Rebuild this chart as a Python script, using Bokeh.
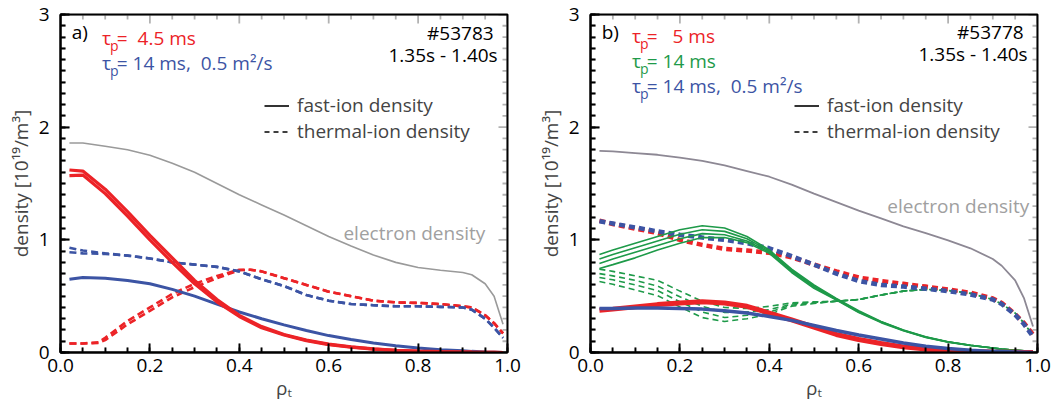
import numpy as np
from bokeh.plotting import figure
from bokeh.models import (Range1d, SingleIntervalTicker, PrintfTickFormatter,
                          Label, Legend, LegendItem, PolyAnnotation)
from bokeh.layouts import row
from bokeh.embed import file_html
from bokeh.resources import INLINE

# ---------------- data ----------------
X = [0.02, 0.05, 0.1, 0.15, 0.2, 0.25, 0.3, 0.35, 0.4, 0.45, 0.5, 0.55, 0.6, 0.65,
     0.7, 0.75, 0.8, 0.85, 0.9, 0.92, 0.95, 0.97, 0.99]

# panel a  (#53783)
el_a = [1.86, 1.86, 1.83, 1.80, 1.75, 1.68, 1.60, 1.50, 1.40, 1.31, 1.22, 1.125, 1.03, 0.945,
        0.865, 0.80, 0.755, 0.73, 0.71, 0.69, 0.61, 0.50, 0.25]
fast_red_a1 = [1.62, 1.61, 1.45, 1.25, 1.04, 0.84, 0.64, 0.47, 0.33, 0.23, 0.16, 0.11, 0.075,
               0.05, 0.032, 0.02, 0.012, 0.007, 0.004, 0.003, 0.002, 0.001, 0.0]
fast_red_a2 = [1.57, 1.575, 1.41, 1.21, 1.00, 0.80, 0.61, 0.45, 0.32, 0.22, 0.155, 0.105, 0.07,
               0.047, 0.03, 0.018, 0.011, 0.006, 0.004, 0.003, 0.002, 0.001, 0.0]
fast_blue_a = [0.65, 0.665, 0.66, 0.64, 0.61, 0.56, 0.50, 0.43, 0.36, 0.30, 0.245, 0.195, 0.15,
               0.115, 0.085, 0.06, 0.04, 0.025, 0.015, 0.01, 0.005, 0.003, 0.0]
therm_blue_a1 = [0.93, 0.905, 0.88, 0.86, 0.835, 0.80, 0.78, 0.76, 0.72, 0.65, 0.59, 0.51, 0.46,
                 0.43, 0.42, 0.41, 0.41, 0.405, 0.40, 0.38, 0.30, 0.22, 0.13]
therm_blue_a2 = [0.89, 0.88, 0.875, 0.86, 0.835, 0.80, 0.78, 0.76, 0.72, 0.65, 0.59, 0.51, 0.46,
                 0.43, 0.42, 0.41, 0.41, 0.405, 0.40, 0.38, 0.30, 0.22, 0.13]
XT = [0.02, 0.05, 0.085, 0.1, 0.15, 0.2, 0.25, 0.3, 0.35, 0.4, 0.425, 0.45, 0.5, 0.55, 0.6,
      0.65, 0.7, 0.75, 0.8, 0.85, 0.9, 0.92, 0.95, 0.97, 0.99]
therm_red_a1 = [0.08, 0.08, 0.085, 0.11, 0.25, 0.37, 0.49, 0.58, 0.66, 0.73, 0.735, 0.72, 0.66,
                0.60, 0.54, 0.50, 0.46, 0.445, 0.44, 0.43, 0.41, 0.40, 0.33, 0.26, 0.17]
therm_red_a2 = [0.08, 0.08, 0.09, 0.13, 0.28, 0.40, 0.52, 0.61, 0.68, 0.735, 0.735, 0.72, 0.66,
                0.60, 0.54, 0.50, 0.46, 0.445, 0.44, 0.43, 0.41, 0.40, 0.33, 0.26, 0.17]

# panel b  (#53778)
el_b = [1.79, 1.785, 1.77, 1.755, 1.73, 1.70, 1.66, 1.61, 1.56, 1.49, 1.41, 1.335, 1.26, 1.19,
        1.12, 1.06, 0.995, 0.925, 0.83, 0.77, 0.64, 0.48, 0.23]
fast_red_b = [0.375, 0.385, 0.405, 0.425, 0.44, 0.45, 0.44, 0.41, 0.35, 0.29, 0.225, 0.16, 0.115,
              0.08, 0.05, 0.03, 0.015, 0.008, 0.004, 0.003, 0.002, 0.001, 0.0]
fast_blue_b = [0.39, 0.39, 0.395, 0.395, 0.39, 0.385, 0.37, 0.35, 0.32, 0.285, 0.24, 0.195, 0.155,
               0.12, 0.085, 0.055, 0.035, 0.02, 0.01, 0.008, 0.004, 0.002, 0.0]
fast_green_b1 = [0.87, 0.91, 0.97, 1.03, 1.09, 1.125, 1.105, 1.03, 0.91, 0.74, 0.60, 0.48, 0.37,
                 0.275, 0.20, 0.14, 0.095, 0.065, 0.04, 0.03, 0.02, 0.015, 0.01]
fast_green_b2 = [0.83, 0.87, 0.93, 0.99, 1.05, 1.09, 1.075, 1.01, 0.90, 0.73, 0.59, 0.475, 0.365,
                 0.272, 0.198, 0.138, 0.094, 0.064, 0.04, 0.03, 0.02, 0.015, 0.01]
fast_green_b3 = [0.79, 0.83, 0.89, 0.95, 1.01, 1.055, 1.045, 0.99, 0.89, 0.72, 0.58, 0.47, 0.36,
                 0.27, 0.196, 0.136, 0.093, 0.063, 0.04, 0.03, 0.02, 0.015, 0.01]
fast_green_b4 = [0.745, 0.78, 0.84, 0.91, 0.97, 1.02, 1.02, 0.975, 0.88, 0.71, 0.57, 0.465, 0.355,
                 0.265, 0.194, 0.134, 0.092, 0.062, 0.04, 0.03, 0.02, 0.015, 0.01]
therm_red_b = [1.17, 1.14, 1.10, 1.06, 1.00, 0.955, 0.92, 0.905, 0.885, 0.845, 0.78, 0.72, 0.665,
               0.635, 0.61, 0.585, 0.56, 0.53, 0.48, 0.44, 0.34, 0.26, 0.16]
therm_blue_b = [1.165, 1.145, 1.11, 1.075, 1.045, 1.02, 1.00, 0.97, 0.925, 0.855, 0.78, 0.70, 0.635,
                0.60, 0.585, 0.565, 0.545, 0.515, 0.47, 0.43, 0.335, 0.25, 0.14]
therm_green_b1 = [0.74, 0.72, 0.68, 0.64, 0.545, 0.455, 0.40, 0.39, 0.41, 0.44, 0.45, 0.455, 0.47,
                  0.51, 0.545, 0.56, 0.55, 0.525, 0.47, 0.43, 0.35, 0.26, 0.15]
therm_green_b2 = [0.70, 0.68, 0.64, 0.59, 0.495, 0.41, 0.355, 0.36, 0.38, 0.43, 0.445, 0.455, 0.47,
                  0.51, 0.545, 0.56, 0.55, 0.525, 0.47, 0.43, 0.35, 0.26, 0.15]
therm_green_b3 = [0.665, 0.645, 0.60, 0.55, 0.45, 0.36, 0.31, 0.33, 0.36, 0.42, 0.44, 0.455, 0.47,
                  0.51, 0.545, 0.56, 0.55, 0.525, 0.47, 0.43, 0.35, 0.26, 0.15]
therm_green_b4 = [0.63, 0.605, 0.555, 0.505, 0.405, 0.31, 0.275, 0.30, 0.34, 0.41, 0.435, 0.455, 0.47,
                  0.51, 0.545, 0.56, 0.55, 0.525, 0.47, 0.43, 0.35, 0.26, 0.15]

X_MAX, Y_MAX = 1.0, 3.0
x_major_step, x_minor_step = 0.2, 0.05
y_major_step, y_minor_step = 1.0, 0.1

# ---------------- styling ----------------
RED = "#ec2327"
BLUE = "#3c54a4"
GREEN = "#1e9a49"
GREY_A = "#9a9a9a"
GREY_B = "#8d8894"
FONT = "Open Sans"
FS = "19px"
FW, FH = 447, 338          # frame size in px
FRAME_TOP = 14             # px, top border
MAJ, MIN = 9, 5            # inward tick lengths in px


def py(y_px):
    """Convert a vertical page position (px from top) to a data y value."""
    return (FRAME_TOP + FH - y_px) * Y_MAX / FH


def tick_positions(step_major, step_minor, vmax):
    out = []
    for v in np.arange(0, vmax + 1e-9, step_minor):
        v = float(round(v, 6))
        is_major = abs(v / step_major - round(v / step_major)) < 1e-6
        out.append((v, is_major))
    return out


def inward_ticks(p):
    """Inward ticks on all four sides: each side is a comb-shaped outline running
    along the frame edge and stepping into the frame at every tick position."""
    kx, ky = X_MAX / FW, Y_MAX / FH          # data units per px
    xt = tick_positions(x_major_step, x_minor_step, X_MAX)
    yt = tick_positions(y_major_step, y_minor_step, Y_MAX)
    combs = []
    for edge, sgn in ((0.0, 1), (Y_MAX, -1)):
        cx, cy = [], []
        for v, mj in xt:
            L = (MAJ if mj else MIN) * ky
            cx += [v, v, v]
            cy += [edge, edge + sgn * L, edge]
        combs.append((cx, cy))
    for edge, sgn in ((0.0, 1), (X_MAX, -1)):
        cx, cy = [], []
        for v, mj in yt:
            L = (MAJ if mj else MIN) * kx
            cx += [edge, edge + sgn * L, edge]
            cy += [v, v, v]
        combs.append((cx, cy))
    for cx, cy in combs:
        p.add_layout(PolyAnnotation(xs=cx, ys=cy, xs_units="data", ys_units="data",
                                    fill_color=None, fill_alpha=0, line_color="black",
                                    line_width=1.8, level="overlay"))


def make_fig(min_left, min_right):
    p = figure(frame_width=FW, frame_height=FH, x_range=Range1d(0, X_MAX), y_range=Range1d(0, Y_MAX),
               output_backend="svg", toolbar_location=None,
               min_border_left=min_left, min_border_right=min_right,
               min_border_top=FRAME_TOP, min_border_bottom=58)
    p.xgrid.visible = False
    p.ygrid.visible = False
    p.outline_line_color = "black"
    p.outline_line_width = 2

    xt = SingleIntervalTicker(interval=x_major_step, num_minor_ticks=4)
    yt = SingleIntervalTicker(interval=y_major_step, num_minor_ticks=10)
    for ax, tk in ((p.xaxis[0], xt), (p.yaxis[0], yt)):
        ax.ticker = tk
        ax.axis_line_width = 2
        ax.major_tick_in = MAJ
        ax.major_tick_out = 0
        ax.minor_tick_in = MIN
        ax.minor_tick_out = 0
        ax.major_tick_line_width = 1.8
        ax.minor_tick_line_width = 1.8
        ax.major_label_text_font = FONT
        ax.major_label_text_font_size = FS
        ax.major_label_text_color = "black"
        ax.axis_label_text_font = FONT
        ax.axis_label_text_font_size = FS
        ax.axis_label_text_font_style = "normal"
    p.xaxis[0].formatter = PrintfTickFormatter(format="%.1f")
    p.yaxis[0].formatter = PrintfTickFormatter(format="%d")
    p.xaxis[0].major_label_standoff = 6
    p.yaxis[0].major_label_standoff = 11
    p.xaxis[0].axis_label = "ρₜ"
    p.xaxis[0].axis_label_standoff = 0
    p.yaxis[0].axis_label = "density [10¹⁹/m³]"
    p.yaxis[0].axis_label_standoff = 2

    # legend for line styles (black keys)
    r_solid = p.line(x=[float("nan")], y=[float("nan")], line_color="black", line_width=1.6)
    r_dash = p.line(x=[float("nan")], y=[float("nan")], line_color="black", line_width=1.6,
                    line_dash="5 4")
    leg = Legend(items=[LegendItem(label="fast-ion density", renderers=[r_solid]),
                        LegendItem(label="thermal-ion density", renderers=[r_dash])],
                 location=(204, 208), border_line_color=None, background_fill_alpha=0,
                 padding=0, spacing=0, margin=0, glyph_width=25, glyph_height=25,
                 label_height=25, label_standoff=8, label_text_font=FONT,
                 label_text_font_size=FS)
    p.add_layout(leg)
    return p


def tau_line(p, y_px, color, rest):
    p.add_layout(Label(x=0.093, y=py(y_px), text="τ", text_font=FONT, text_font_size=FS,
                       text_color=color, text_baseline="middle", text_align="left"))
    p.add_layout(Label(x=0.111, y=py(y_px + 8), text="p", text_font=FONT, text_font_size="14px",
                       text_color=color, text_baseline="middle", text_align="left"))
    p.add_layout(Label(x=0.126, y=py(y_px), text=rest, text_font=FONT, text_font_size=FS,
                       text_color=color, text_baseline="middle", text_align="left"))


def text(p, x, y_px, s, color="black", align="left", size=FS):
    p.add_layout(Label(x=x, y=py(y_px), text=s, text_font=FONT, text_font_size=size,
                       text_color=color, text_baseline="middle", text_align=align))


NB = "\u00a0"

# ---------------- panel a ----------------
pa = make_fig(60, 23)
pa.line(X, el_a, line_color=GREY_A, line_width=1.6)
pa.line(XT, therm_red_a1, line_color=RED, line_width=2.6, line_dash="7 4")
pa.line(XT, therm_red_a2, line_color=RED, line_width=2.6, line_dash="7 4")
pa.line(X, therm_blue_a1, line_color=BLUE, line_width=2.6, line_dash="7 4")
pa.line(X, therm_blue_a2, line_color=BLUE, line_width=2.6, line_dash="7 4")
pa.line(X, fast_blue_a, line_color=BLUE, line_width=3)
pa.line(X, fast_red_a1, line_color=RED, line_width=3.2)
pa.line(X, fast_red_a2, line_color=RED, line_width=3.2)
inward_ticks(pa)

text(pa, 0.025, 31, "a)")
tau_line(pa, 37, RED, "=" + NB + NB + "4.5 ms")
tau_line(pa, 62, BLUE, "= 14 ms," + NB + NB + "0.5 m²/s")
text(pa, 0.969, 32, "#53783", align="right")
text(pa, 0.978, 54, "1.35s - 1.40s", align="right")
text(pa, 0.633, 232, "electron density", color="#a0a0a0")

# ---------------- panel b ----------------
pb = make_fig(60, 17)
pb.line(X, el_b, line_color=GREY_B, line_width=1.8)
for g in (therm_green_b1, therm_green_b2, therm_green_b3, therm_green_b4):
    pb.line(X, g, line_color=GREEN, line_width=1.6, line_dash="6 4")
pb.line(X, therm_red_b, line_color=RED, line_width=4.5, line_dash="6 4")
pb.line(X, therm_blue_b, line_color=BLUE, line_width=4.5, line_dash="6 4")
for g in (fast_green_b1, fast_green_b2, fast_green_b3, fast_green_b4):
    pb.line(X, g, line_color=GREEN, line_width=1.6)
pb.line(X, fast_red_b, line_color=RED, line_width=5)
pb.line(X, fast_blue_b, line_color=BLUE, line_width=3.5)
inward_ticks(pb)

text(pb, 0.025, 31, "b)")
tau_line(pb, 35, RED, "=" + NB + NB + NB + "5 ms")
tau_line(pb, 60, GREEN, "= 14 ms")
tau_line(pb, 85, BLUE, "= 14 ms," + NB + NB + "0.5 m²/s")
text(pb, 0.969, 31, "#53778", align="right")
text(pb, 0.978, 53, "1.35s - 1.40s", align="right")
text(pb, 0.664, 205, "electron density", color="#a0a0a0")

layout = row(pa, pb, spacing=0)
open("out.html", "w").write(file_html(layout, INLINE))
